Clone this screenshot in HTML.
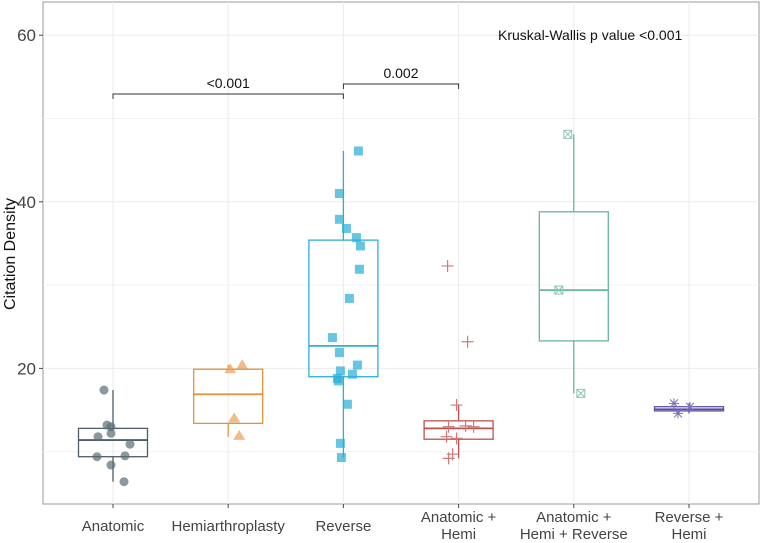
<!DOCTYPE html>
<html><head><meta charset="utf-8"><style>
body{margin:0;background:#fff;}
svg{display:block;font-family:"Liberation Sans",sans-serif;}
</style></head><body>
<svg id="chart" width="762" height="543"></svg>
<script>
const categories=["Anatomic","Hemiarthroplasty","Reverse","Anatomic +|Hemi","Anatomic +|Hemi + Reverse","Reverse +|Hemi"];
const boxStats=[[6.4,9.4,11.4,12.8,17.4],[11.8,13.4,16.9,19.9,20.4],[9.3,19.0,22.7,35.4,46.1],[9.2,11.5,12.8,13.7,15.6],[17.0,23.3,29.4,38.8,48.1],[14.6,14.9,15.1,15.4,15.8]];
const pointsA=[17.4,13.2,13.0,12.2,11.8,10.9,9.4,9.5,8.4,6.4];
const pointsH=[19.9,20.4,14.0,11.9];
const pointsR=[46.1,41.0,37.9,36.8,35.7,34.7,31.9,28.4,23.7,21.9,20.4,19.7,19.3,18.8,18.5,15.7,11.0,9.3];
const pointsAH=[32.3,23.2,15.6,13.0,13.1,13.0,11.8,11.6,9.7,9.2];
const pointsAHR=[48.1,29.4,17.0];
const pointsRH=[15.8,14.6,15.4];
const jitterA=[-9,-6,-2,-2,-15,17,-16,12,-2,11];
const jitterH=[2,14,6,11];
const jitterR=[15,-4,-4,3,13,17,16,6,-11,-4,14,-3,9,-6,-5,4,-3,-2];
const jitterAH=[-11,9,-2,-10,7,15,-12,-2,-6,-10];
const jitterAHR=[-6,-15,7];
const jitterRH=[-15,-11,1];
const yTicks=[20,40,60];
const yMinor=[10,30,50];
const NS="http://www.w3.org/2000/svg";
const svg=document.getElementById("chart");
const L=43,R=759,T=2,B=504;
const y=v=>535-8.33*v;
const x=i=>113+i*115.2;
function el(t,a,p){const e=document.createElementNS(NS,t);for(const k in a)e.setAttribute(k,a[k]);(p||svg).appendChild(e);return e;}
const frame=el("rect",{x:L,y:T,width:R-L,height:B-T,fill:"#fff",stroke:"#999","stroke-width":1});


yMinor.forEach(v=>{const g=el("line",{x1:L,x2:R,y1:y(v),y2:y(v),stroke:"#f3f3f3"});});
yTicks.forEach(v=>{const g=el("line",{x1:L,x2:R,y1:y(v),y2:y(v),stroke:"#ebebeb"});
const t=el("text",{x:36,y:y(v)+6,"text-anchor":"end","font-size":17,fill:"#444"});t.textContent=v;
el("line",{x1:39,x2:43,y1:y(v),y2:y(v),stroke:"#444"});});
categories.forEach((c,i)=>{const g=el("line",{x1:x(i),x2:x(i),y1:T,y2:B,stroke:"#ebebeb"});
el("line",{x1:x(i),x2:x(i),y1:B,y2:B+4,stroke:"#444"});
const parts=c.split("|");const y0=parts.length==1?531:522;parts.forEach((p,j)=>{const t=el("text",{x:x(i),y:y0+j*17,"text-anchor":"middle","font-size":15,fill:"#444"});t.textContent=p;});});
const lineC=["#4d5f68","#e8913a","#2bafd7","#c0504d","#6ab59c","#5a4fa0"];
const ptC=["rgba(90,108,116,0.7)","rgba(232,160,90,0.7)","rgba(43,175,215,0.72)","#d07a78","#8cc7b2","#7b72b8"];
const pts=[pointsA,pointsH,pointsR,pointsAH,pointsAHR,pointsRH];
const jit=[jitterA,jitterH,jitterR,jitterAH,jitterAHR,jitterRH];
boxStats.forEach((s,i)=>{const g=el("g",{});
const c=lineC[i],cx=x(i);
el("line",{x1:cx,x2:cx,y1:y(s[0]),y2:y(s[1]),stroke:c,"stroke-width":1.3},g);
el("line",{x1:cx,x2:cx,y1:y(s[3]),y2:y(s[4]),stroke:c,"stroke-width":1.3},g);
el("rect",{x:cx-34.5,y:y(s[3]),width:69,height:y(s[1])-y(s[3]),fill:"none",stroke:c,"stroke-width":1.3},g);
el("line",{x1:cx-34.5,x2:cx+34.5,y1:y(s[2]),y2:y(s[2]),stroke:c,"stroke-width":1.8},g);});
pts.forEach((arr,i)=>arr.forEach((v,k)=>{const px=x(i)+jit[i][k],py=y(v),c=ptC[i];let m;
if(i==0)m=el("circle",{cx:px,cy:py,r:4.5,fill:c});
else if(i==1)m=el("polygon",{points:`${px},${py-6} ${px-6},${py+4} ${px+6},${py+4}`,fill:c});
else if(i==2)m=el("rect",{x:px-4.5,y:py-4.5,width:9,height:9,fill:c});
else if(i==3)m=el("path",{d:`M${px-6},${py}H${px+6}M${px},${py-6}V${py+6}`,stroke:c,"stroke-width":1.2});
else if(i==4)m=el("path",{d:`M${px-4},${py-4}h8v8h-8zM${px-4},${py-4}l8,8M${px+4},${py-4}l-8,8`,stroke:c,fill:"none","stroke-width":1});
else m=el("path",{d:`M${px-5},${py}H${px+5}M${px},${py-5}V${py+5}M${px-4},${py-4}l8,8M${px+4},${py-4}l-8,8`,stroke:c,"stroke-width":1});

}));
function bracket(i,j,yy,label){const g=el("g",{});
el("path",{d:`M${x(i)},${yy+5}V${yy}H${x(j)}V${yy+5}`,fill:"none",stroke:"#333","stroke-width":1},g);
const t=el("text",{x:(x(i)+x(j))/2,y:yy-6,"text-anchor":"middle","font-size":14,fill:"#111"},g);t.textContent=label;}
bracket(0,2,94,"<0.001");bracket(2,3,84,"0.002");
const yt=el("text",{x:0,y:0,transform:"translate(15,254) rotate(-90)","text-anchor":"middle","font-size":16,fill:"#111"});yt.textContent="Citation Density";

const an=el("text",{x:498,y:40,"font-size":14,fill:"#111"});an.textContent="Kruskal-Wallis p value <0.001";

</script>
</body></html>
